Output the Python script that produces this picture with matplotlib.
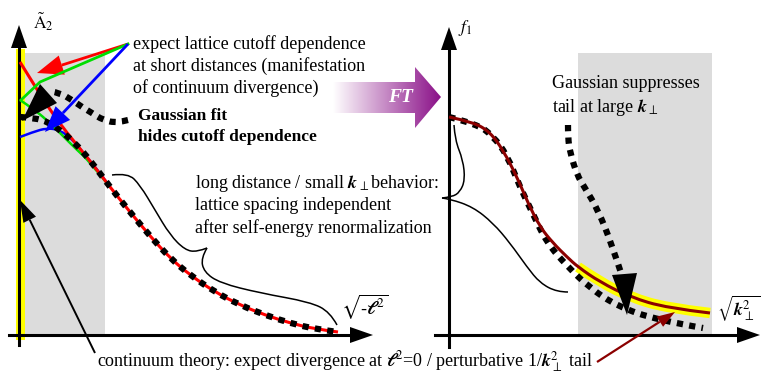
import numpy as np
import matplotlib
matplotlib.use("Agg")
import matplotlib.pyplot as plt
from matplotlib.path import Path
from matplotlib.patches import PathPatch, Polygon, Rectangle
from matplotlib.colors import LinearSegmentedColormap

plt.rcParams["font.family"] = ["Liberation Serif", "DejaVu Serif"]
plt.rcParams["mathtext.fontset"] = "stix"

# ---- curve points (pixel units, y grows downward) ----
# left panel: propagator in distance
main_x = [110, 130, 150, 170, 190, 215, 240, 265, 290, 315, 338]
main_y = [187, 212, 236, 258, 275, 292, 305, 315, 323, 329, 332]
fit_x = [20, 35, 48, 60, 75, 90]
fit_y = [117, 118, 122, 130, 143, 160]
red_x = [20, 33, 50, 67, 87]
red_y = [62, 83, 110, 133, 157]
green_x = [20, 35, 50, 62, 75, 90]
green_y = [100, 110, 123, 135, 148, 162]
blue_x = [20, 33, 47, 60, 73, 85, 100]
blue_y = [137, 132, 128, 130, 140, 155, 173]
fit_arrow_x = [128, 117, 103, 92, 82, 72, 60, 50]
fit_arrow_y = [120, 123, 120, 113, 107, 100, 93, 91]
brace_l1_x = [112, 128, 140, 155, 170, 185, 197, 207]
brace_l1_y = [175, 173, 185, 210, 235, 250, 252, 248]
brace_l2_x = [207, 201, 204, 220, 260, 310, 330, 337]
brace_l2_y = [248, 258, 272, 283, 293, 302, 312, 325]

# right panel: momentum space
f1_x = [449, 473, 490, 503, 517, 528, 540, 553, 567, 578, 600, 630, 667, 710]
f1_y = [117, 122, 132, 150, 177, 203, 227, 243, 257, 267, 282, 297, 308, 313]
tail_x = [578, 600, 630, 667, 710]
tail_y = [267, 282, 297, 308, 313]
gauss_x = [449, 477, 493, 507, 520, 532, 547, 567, 590, 617, 657, 703]
gauss_y = [117, 124, 136, 155, 187, 212, 243, 266, 288, 306, 320, 328]
supp_x = [568, 568, 570, 577, 585, 598, 612, 622]
supp_y = [125, 138, 152, 175, 188, 210, 245, 276]
brace_r1_x = [454, 455, 463, 465, 460, 452, 442]
brace_r1_y = [125, 140, 160, 180, 192, 197, 198]
brace_r2_x = [442, 450, 473, 493, 510, 527, 540, 557, 568]
brace_r2_y = [198, 199, 207, 223, 243, 267, 283, 292, 292]

DARKRED = "#8b0000"
GRAY = "#dcdcdc"


def smooth(xs, ys):
    pts = list(zip(xs, ys))
    verts = [pts[0]]
    codes = [Path.MOVETO]
    if len(pts) == 2:
        verts.append(pts[1])
        codes.append(Path.LINETO)
        return Path(verts, codes)
    for i in range(1, len(pts) - 1):
        if i < len(pts) - 2:
            end = ((pts[i][0] + pts[i + 1][0]) / 2, (pts[i][1] + pts[i + 1][1]) / 2)
        else:
            end = pts[-1]
        verts += [pts[i], end]
        codes += [Path.CURVE3, Path.CURVE3]
    return Path(verts, codes)


def curve(ax, xs, ys, dotted=False, **kw):
    if dotted:
        kw.setdefault("linestyle", (0, (1, 1)))
        kw.setdefault("capstyle", "butt")
    ax.add_patch(PathPatch(smooth(xs, ys), fill=False, **kw))


def head(ax, tail, tip, length, width, color, z=6):
    d = np.array(tip, float) - np.array(tail, float)
    d /= np.hypot(*d)
    n = np.array([-d[1], d[0]])
    base = np.array(tip) - d * length
    ax.add_patch(Polygon([tip, base + n * width / 2, base - n * width / 2],
                         closed=True, color=color, lw=0, zorder=z))
    return base


def arrow(ax, start, tip, length, width, color, lw, z=6):
    base = head(ax, start, tip, length, width, color, z)
    ax.plot([start[0], base[0]], [start[1], base[1]], color=color, lw=lw,
            solid_capstyle="butt", zorder=z)


fig = plt.figure(figsize=(7.61, 3.73), dpi=100)
ax = fig.add_axes([0, 0, 1, 1])
ax.set_xlim(0, 761)
ax.set_ylim(373, 0)
ax.axis("off")

# shaded regions
ax.add_patch(Rectangle((21, 53), 84, 282, color=GRAY, lw=0, zorder=0))
ax.add_patch(Rectangle((578, 53), 134, 282, color=GRAY, lw=0, zorder=0))

# ---- left panel ----
ax.plot([19.5, 19.5], [53, 335], color="yellow", lw=6.5, zorder=1)
ax.plot([19, 19], [345, 45], color="black", lw=2.2, zorder=2)
head(ax, (19, 60), (19, 25), 23, 16, "black", z=2)
ax.plot([9, 352], [335, 335], color="black", lw=2.2, zorder=2)
head(ax, (300, 335), (373, 335), 23, 16, "black", z=2)

curve(ax, blue_x + [110], blue_y + [187], color="blue", lw=1.8, zorder=3)
curve(ax, green_x + [110], green_y + [187], color="#00dd00", lw=1.8, zorder=3)
curve(ax, red_x + main_x, red_y + main_y, color="red", lw=2.2, zorder=4)
curve(ax, fit_x + main_x, fit_y + main_y, dotted=True, color="black", lw=4.5, zorder=5)

# arrows from the cutoff label
arrow(ax, (128, 44), (37, 73), 26, 20, "red", 2.0)
ax.plot([128, 40, 21], [44, 82, 100], color="#00dd00", lw=2.0, zorder=6)
arrow(ax, (128, 44), (45, 132), 26, 20, "blue", 2.0)

# Gaussian fit pointer
curve(ax, fit_arrow_x, fit_arrow_y, dotted=True, color="black", lw=4.5, zorder=6)
ax.add_patch(Polygon([(40, 84), (57, 103), (22, 121)], color="black", lw=0, zorder=7))

curve(ax, brace_l1_x, brace_l1_y, color="black", lw=1.1, zorder=3)
curve(ax, brace_l2_x, brace_l2_y, color="black", lw=1.1, zorder=3)

arrow(ax, (95, 353), (20, 200), 22, 14, "black", 1.4)

ax.text(33, 22, r"$\tilde{\mathrm{A}}_{2}$", fontsize=12.5, va="center")

fs = 13
ax.text(133, 44, "expect lattice cutoff dependence", fontsize=fs, va="center")
ax.text(133, 66, "at short distances (manifestation", fontsize=fs, va="center")
ax.text(133, 88, "of continuum divergence)", fontsize=fs, va="center")
ax.text(138, 116, "Gaussian fit", fontsize=12.5, va="center", fontweight="bold")
ax.text(138, 137, "hides cutoff dependence", fontsize=12.5, va="center", fontweight="bold")
ax.text(195, 184, r"long distance / small $\mathbfit{k}_{\perp}$behavior:", fontsize=fs, va="center")
ax.text(195, 206, "lattice spacing independent", fontsize=fs, va="center")
ax.text(195, 228, "after self-energy renormalization", fontsize=fs, va="center")
ax.text(341, 307, r"$\sqrt{\text{-}\mathbfit{\ell}^{2}}$", fontsize=13.5, va="center")
ax.text(97, 362, r"continuum theory: expect divergence at $\mathbfit{\ell}^{2}$=0 / perturbative 1/$\mathbfit{k}_{\perp}^{2}$ tail",
        fontsize=fs, va="center")

# ---- FT arrow ----
ft_poly = Polygon([(333, 82), (415, 82), (415, 67), (441, 97), (415, 128), (415, 113), (333, 113)],
                  closed=True, fc="none", ec="none")
ax.add_patch(ft_poly)
ft_cmap = LinearSegmentedColormap.from_list("ft", ["white", "#8a1088"])
grad = np.linspace(0, 1, 256).reshape(1, -1)
im = ax.imshow(grad, cmap=ft_cmap, extent=[333, 441, 128, 67], aspect="auto", zorder=3)
im.set_clip_path(ft_poly)
ax.set_xlim(0, 761)
ax.set_ylim(373, 0)
ax.text(400, 97, "FT", color="white", fontsize=14, fontweight="bold", fontstyle="italic",
        ha="center", va="center", zorder=4)

# ---- right panel ----
ax.plot([449, 449], [347, 50], color="black", lw=2.2, zorder=2)
head(ax, (449, 60), (449, 27), 23, 16, "black", z=2)
ax.plot([435, 740], [335, 335], color="black", lw=2.2, zorder=2)
head(ax, (700, 335), (760, 335), 23, 16, "black", z=2)

curve(ax, tail_x, tail_y, color="yellow", lw=7.5, zorder=3)
curve(ax, gauss_x, gauss_y, dotted=True, color="black", lw=4.5, zorder=4)
curve(ax, f1_x, f1_y, color=DARKRED, lw=2.2, zorder=5)

curve(ax, supp_x, supp_y, dotted=True, color="black", lw=4.5, zorder=6)
ax.add_patch(Polygon([(612, 275), (637, 273), (627, 315)], color="black", lw=0, zorder=7))

curve(ax, brace_r1_x, brace_r1_y, color="black", lw=1.1, zorder=3)
curve(ax, brace_r2_x, brace_r2_y, color="black", lw=1.1, zorder=3)

arrow(ax, (597, 362), (675, 312), 18, 12, DARKRED, 1.6)

ax.text(458, 28, r"$f_{1}$", fontsize=12.5, va="center")
ax.text(552, 83, "Gaussian suppresses", fontsize=fs, va="center")
ax.text(552, 107, r"tail at large $\mathbfit{k}_{\perp}$", fontsize=fs, va="center")
ax.text(717, 308, r"$\sqrt{\mathbfit{k}_{\perp}^{2}}$", fontsize=13, va="center")

fig.savefig("out.png", dpi=100)
